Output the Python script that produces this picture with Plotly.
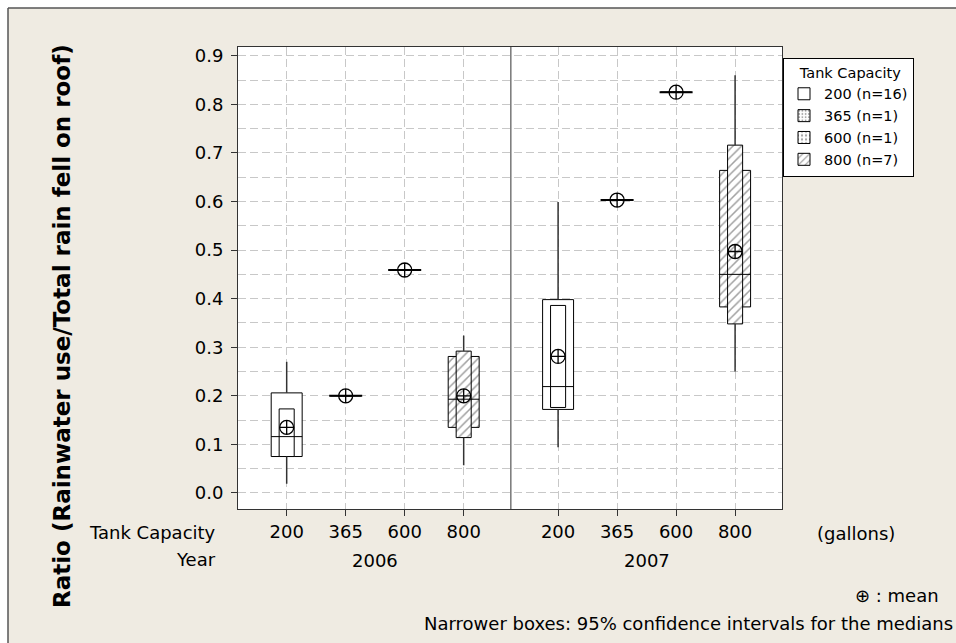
import plotly.graph_objects as go

# ---------------- data ----------------
years = ["2006", "2007"]
capacities = ["200", "365", "600", "800"]
counts = [16, 1, 1, 7]

# order: 2006 -> 200, 365, 600, 800 ; 2007 -> 200, 365, 600, 800
whisker_lo = [0.019, 0.200, 0.459, 0.057, 0.094, 0.603, 0.825, 0.250]
q1         = [0.075, 0.200, 0.459, 0.135, 0.172, 0.603, 0.825, 0.383]
median     = [0.116, 0.200, 0.459, 0.193, 0.219, 0.603, 0.825, 0.450]
q3         = [0.206, 0.200, 0.459, 0.281, 0.398, 0.603, 0.825, 0.664]
whisker_hi = [0.270, 0.200, 0.459, 0.324, 0.599, 0.603, 0.825, 0.860]
ci_lo      = [0.075, None, None, 0.114, 0.176, None, None, 0.348]
ci_hi      = [0.173, None, None, 0.292, 0.386, None, None, 0.716]
mean       = [0.135, 0.200, 0.459, 0.200, 0.281, 0.603, 0.825, 0.497]

# ---------------- layout helpers ----------------
FONT = "DejaVu Sans"
W, H = 956, 643
L, R, T, B = 238, 782, 47, 509          # plot area in pixels
GROUP_STEP = 4.6
BOX_W = 0.525
CI_W = 0.255
LINE_W = 0.56
patterns = {"200": "", "365": ".", "600": ".", "800": "/"}
pattern_size = {"200": 6, "365": 4, "600": 5, "800": 6}

def px_x(p):
    return (p - L) / (R - L)

def px_y(p):
    return (B - p) / (B - T)

cells = []
for yi, yr in enumerate(years):
    for ci, cap in enumerate(capacities):
        cells.append((yr, cap, yi * GROUP_STEP + ci))
positions = [c[2] for c in cells]
cap_of = [c[1] for c in cells]

fig = go.Figure()

# outer (IQR) boxes, one trace per capacity
for cap, n in zip(capacities, counts):
    idx = [i for i, c in enumerate(cap_of) if c == cap]
    fig.add_trace(go.Bar(
        x=[positions[i] for i in idx],
        base=[q1[i] for i in idx],
        y=[q3[i] - q1[i] for i in idx],
        width=BOX_W,
        name=f"{cap} (n={n})",
        legendgroup=cap,
        marker=dict(color="white", line=dict(color="black", width=1),
                    pattern=dict(shape=patterns[cap], fgcolor="#444444", bgcolor="white",
                                 size=pattern_size[cap], solidity=0.25)),
        hoverinfo="skip",
    ))

# CI boxes (narrower)
for cap in capacities:
    idx = [i for i, c in enumerate(cap_of) if c == cap and ci_lo[i] is not None]
    if not idx:
        continue
    fig.add_trace(go.Bar(
        x=[positions[i] for i in idx],
        base=[ci_lo[i] for i in idx],
        y=[ci_hi[i] - ci_lo[i] for i in idx],
        width=CI_W,
        showlegend=False,
        legendgroup=cap,
        marker=dict(color="white", line=dict(color="black", width=1),
                    pattern=dict(shape=patterns[cap], fgcolor="#444444", bgcolor="white",
                                 size=pattern_size[cap], solidity=0.25)),
        hoverinfo="skip",
    ))

# whiskers (outside the boxes)
wx, wy = [], []
for i, p in enumerate(positions):
    lo_edge = min(q1[i], ci_lo[i]) if ci_lo[i] is not None else q1[i]
    hi_edge = max(q3[i], ci_hi[i]) if ci_hi[i] is not None else q3[i]
    if whisker_lo[i] < lo_edge:
        wx += [p, p, None]; wy += [whisker_lo[i], lo_edge, None]
    if whisker_hi[i] > hi_edge:
        wx += [p, p, None]; wy += [hi_edge, whisker_hi[i], None]
fig.add_trace(go.Scatter(x=wx, y=wy, mode="lines", line=dict(color="#333333", width=1.5),
                         showlegend=False, hoverinfo="skip"))

# median lines
mx, my, sx, sy = [], [], [], []
for i, p in enumerate(positions):
    if q3[i] > q1[i]:
        mx += [p - BOX_W / 2, p + BOX_W / 2, None]; my += [median[i], median[i], None]
    else:
        sx += [p - LINE_W / 2, p + LINE_W / 2, None]; sy += [median[i], median[i], None]
fig.add_trace(go.Scatter(x=mx, y=my, mode="lines", line=dict(color="black", width=1),
                         showlegend=False, hoverinfo="skip"))
fig.add_trace(go.Scatter(x=sx, y=sy, mode="lines", line=dict(color="black", width=2),
                         showlegend=False, hoverinfo="skip"))

# means
fig.add_trace(go.Scatter(x=positions, y=mean, mode="markers",
                         marker=dict(symbol="circle-cross-open", size=14, color="black",
                                     line=dict(width=1.3, color="black")),
                         showlegend=False, hoverinfo="skip"))

grid = "#c8c8c8"
fig.update_layout(
    width=W, height=H, autosize=False,
    margin=dict(l=L, r=W - R, t=T, b=H - B, pad=0),
    paper_bgcolor="#EFEBE2", plot_bgcolor="white",
    barmode="overlay",
    font=dict(family=FONT, size=18, color="black"),
    xaxis=dict(range=[-0.825, 8.395], tickmode="array", tickvals=positions, ticktext=cap_of,
               showgrid=True, gridcolor=grid, griddash="8px,4px", gridwidth=1,
               ticks="outside", ticklen=6, tickcolor="#333333",
               showline=True, linecolor="#333333", linewidth=1, mirror=True, zeroline=False,
               tickfont=dict(family=FONT, size=18, color="black")),
    yaxis=dict(range=[-0.033, 0.918], tick0=0, dtick=0.1, tickformat=".1f",
               showgrid=True, gridcolor=grid, griddash="8px,4px", gridwidth=1,
               minor=dict(tick0=0, dtick=0.05, showgrid=True, gridcolor=grid, griddash="8px,4px"),
               ticks="outside", ticklen=6, tickcolor="#333333", ticklabelstandoff=4,
               showline=True, linecolor="#333333", linewidth=1, mirror=True, zeroline=False,
               tickfont=dict(family=FONT, size=18, color="black")),
    legend=dict(x=px_x(783), y=px_y(58), xanchor="left", yanchor="top",
                bgcolor="white", bordercolor="black", borderwidth=1,
                font=dict(family=FONT, size=14.5, color="black"),
                title=dict(text="   Tank Capacity", font=dict(family=FONT, size=14.5)),
                traceorder="normal", itemclick=False),
)

# panel separator
fig.add_shape(type="line", xref="x", yref="paper",
              x0=(3 + GROUP_STEP) / 2, x1=(3 + GROUP_STEP) / 2, y0=0, y1=1,
              line=dict(color="#333333", width=1))

# outer frame (white strip top/left + gray border)
fig.add_shape(type="rect", xref="paper", yref="paper", x0=px_x(0), x1=px_x(W), y0=px_y(8), y1=px_y(0),
              fillcolor="white", line=dict(width=0), layer="below")
fig.add_shape(type="rect", xref="paper", yref="paper", x0=px_x(0), x1=px_x(8), y0=px_y(H), y1=px_y(0),
              fillcolor="white", line=dict(width=0), layer="below")
fig.add_shape(type="line", xref="paper", yref="paper", x0=px_x(8), x1=px_x(W), y0=px_y(8), y1=px_y(8),
              line=dict(color="#555555", width=1.5))
fig.add_shape(type="line", xref="paper", yref="paper", x0=px_x(8), x1=px_x(8), y0=px_y(8), y1=px_y(H),
              line=dict(color="#555555", width=1.5))

# year labels
for yi, yr in enumerate(years):
    grp = [positions[i] for i, c in enumerate(cells) if c[0] == yr]
    fig.add_annotation(x=sum(grp) / len(grp), y=px_y(560), xref="x", yref="paper",
                       text=yr, showarrow=False, xanchor="center", yanchor="middle",
                       font=dict(family=FONT, size=18))

ann = [
    ("Tank Capacity", px_x(218), px_y(532), "right"),
    ("Year", px_x(218), px_y(559), "right"),
    ("(gallons)", px_x(856), px_y(533), "center"),
    ("\u2295 : mean", px_x(941), px_y(595), "right"),
    ("Narrower boxes: 95% confidence intervals for the medians", px_x(955), px_y(623), "right"),
]
for text, x, y, xa in ann:
    fig.add_annotation(x=x, y=y, xref="paper", yref="paper", text=text, showarrow=False,
                       xanchor=xa, yanchor="middle", font=dict(family=FONT, size=18))

fig.add_annotation(x=px_x(62), y=px_y(326), xref="paper", yref="paper",
                   text="<b>Ratio (Rainwater use/Total rain fell on roof)</b>", textangle=-90,
                   showarrow=False, xanchor="center", yanchor="middle",
                   font=dict(family=FONT, size=23))

fig.write_html("out.html")
